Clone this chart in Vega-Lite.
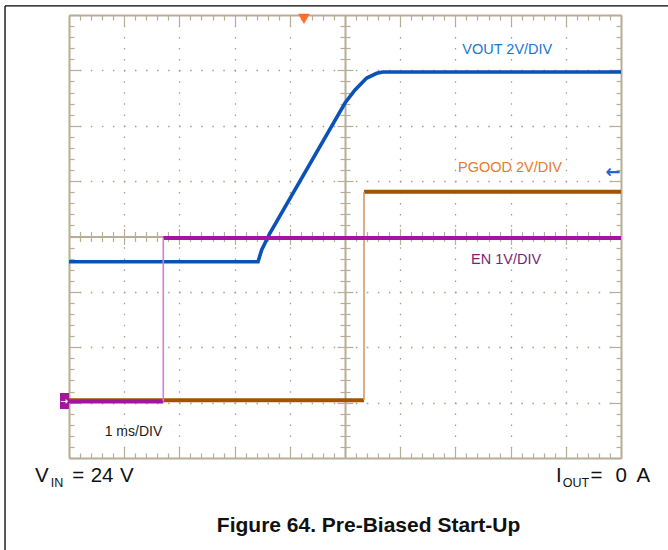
{
  "$schema": "https://vega.github.io/schema/vega-lite/v6.json",
  "width": 552,
  "height": 443,
  "autosize": {"type": "none"},
  "padding": {"left": 69, "top": 15, "right": 47, "bottom": 92},
  "background": "white",
  "config": {"view": {"stroke": null}, "font": "Liberation Sans"},
  "datasets": {
    "dummy": [{"x": 0, "y": 0}],
    "vout": [
      {"x": 0, "y": 3.545}, {"x": 3.424, "y": 3.545}, {"x": 3.49, "y": 3.756}, {"x": 3.641, "y": 4.063},
      {"x": 5.0, "y": 6.411}, {"x": 5.181, "y": 6.646}, {"x": 5.393, "y": 6.862}, {"x": 5.574, "y": 6.947},
      {"x": 5.688, "y": 6.97}, {"x": 10, "y": 6.97}
    ],
    "en": [
      {"seg": "low", "x": 0, "y": 1.02}, {"seg": "low", "x": 1.708, "y": 1.02},
      {"seg": "high", "x": 1.708, "y": 3.975}, {"seg": "high", "x": 10, "y": 3.975}
    ],
    "pgood": [
      {"seg": "low", "x": 0, "y": 1.045}, {"seg": "low", "x": 5.344, "y": 1.045},
      {"seg": "high", "x": 5.344, "y": 4.81}, {"seg": "high", "x": 10, "y": 4.81}
    ],
    "big": [
      {"t": "V", "x": -0.616, "y": -0.43},
      {"t": "=", "x": 0.06, "y": -0.43},
      {"t": "24", "x": 0.393, "y": -0.43},
      {"t": "V", "x": 0.924, "y": -0.43},
      {"t": "I", "x": 8.822, "y": -0.43},
      {"t": "=", "x": 9.447, "y": -0.43},
      {"t": "0", "x": 9.9, "y": -0.43},
      {"t": "A", "x": 10.281, "y": -0.43}
    ],
    "sub": [
      {"t": "IN", "x": -0.332, "y": -0.518},
      {"t": "OUT", "x": 8.946, "y": -0.53}
    ]
  },
  "layer": [
    {
      "data": {"name": "dummy"},
      "mark": {"type": "point", "opacity": 0},
      "encoding": {
        "x": {"field": "x", "type": "quantitative", "scale": {"domain": [0, 10], "nice": false},
          "axis": {"orient": "bottom", "title": null, "labels": false, "grid": true, "ticks": false, "domain": false,
            "values": [1, 2, 3, 4, 6, 7, 8, 9], "gridColor": "#a89f86", "gridWidth": 1.3, "gridDash": [1.5, 9.575], "gridDashOffset": 0.75}},
        "y": {"field": "y", "type": "quantitative", "scale": {"domain": [0, 8], "nice": false},
          "axis": {"orient": "left", "title": null, "labels": false, "grid": true, "ticks": false, "domain": false,
            "values": [1, 2, 3, 5, 6, 7], "gridColor": "#a89f86", "gridWidth": 1.3, "gridDash": [1.5, 9.54], "gridDashOffset": 0.75}}
      }
    },
    {
      "data": {"name": "dummy"},
      "mark": {"type": "point", "opacity": 0},
      "encoding": {
        "x": {"field": "x", "type": "quantitative", "scale": {"domain": [0, 10], "nice": false},
          "axis": {"orient": "bottom", "title": null, "labels": false, "grid": false,
            "values": [0,0.2,0.4,0.6,0.8,1,1.2,1.4,1.6,1.8,2,2.2,2.4,2.6,2.8,3,3.2,3.4,3.6,3.8,4,4.2,4.4,4.6,4.8,5,5.2,5.4,5.6,5.8,6,6.2,6.4,6.6,6.8,7,7.2,7.4,7.6,7.8,8,8.2,8.4,8.6,8.8,9,9.2,9.4,9.6,9.8,10],
            "tickSize": {"condition": {"test": "datum.value % 1 === 0", "value": -11}, "value": -5},
            "tickColor": "#b8ae96", "tickWidth": 1.2, "domainColor": "#b8ae96", "domainWidth": 2}},
        "y": {"field": "y", "type": "quantitative", "scale": {"domain": [0, 8], "nice": false},
          "axis": {"orient": "left", "title": null, "labels": false, "grid": false,
            "values": [0,0.2,0.4,0.6,0.8,1,1.2,1.4,1.6,1.8,2,2.2,2.4,2.6,2.8,3,3.2,3.4,3.6,3.8,4,4.2,4.4,4.6,4.8,5,5.2,5.4,5.6,5.8,6,6.2,6.4,6.6,6.8,7,7.2,7.4,7.6,7.8,8],
            "tickSize": {"condition": {"test": "datum.value % 1 === 0", "value": -11}, "value": -5},
            "tickColor": "#b8ae96", "tickWidth": 1.2, "domainColor": "#b8ae96", "domainWidth": 2}}
      }
    },
    {
      "data": {"name": "dummy"},
      "mark": {"type": "point", "opacity": 0},
      "encoding": {
        "x": {"field": "x", "type": "quantitative", "scale": {"domain": [0, 10], "nice": false},
          "axis": {"orient": "top", "title": null, "labels": false, "grid": false,
            "values": [0,0.2,0.4,0.6,0.8,1,1.2,1.4,1.6,1.8,2,2.2,2.4,2.6,2.8,3,3.2,3.4,3.6,3.8,4,4.2,4.4,4.6,4.8,5,5.2,5.4,5.6,5.8,6,6.2,6.4,6.6,6.8,7,7.2,7.4,7.6,7.8,8,8.2,8.4,8.6,8.8,9,9.2,9.4,9.6,9.8,10],
            "tickSize": {"condition": {"test": "datum.value % 1 === 0", "value": -11}, "value": -5},
            "tickColor": "#b8ae96", "tickWidth": 1.2, "domainColor": "#b8ae96", "domainWidth": 2}},
        "y": {"field": "y", "type": "quantitative", "scale": {"domain": [0, 8], "nice": false},
          "axis": {"orient": "right", "title": null, "labels": false, "grid": false,
            "values": [0,0.2,0.4,0.6,0.8,1,1.2,1.4,1.6,1.8,2,2.2,2.4,2.6,2.8,3,3.2,3.4,3.6,3.8,4,4.2,4.4,4.6,4.8,5,5.2,5.4,5.6,5.8,6,6.2,6.4,6.6,6.8,7,7.2,7.4,7.6,7.8,8],
            "tickSize": {"condition": {"test": "datum.value % 1 === 0", "value": -11}, "value": -5},
            "tickColor": "#b8ae96", "tickWidth": 1.2, "domainColor": "#b8ae96", "domainWidth": 2}}
      }
    },
    {
      "data": {"name": "dummy"},
      "mark": {"type": "point", "opacity": 0},
      "encoding": {
        "x": {"field": "x", "type": "quantitative", "scale": {"domain": [0, 10], "nice": false},
          "axis": {"orient": "bottom", "offset": -221.5, "title": null, "labels": false, "grid": false,
            "values": [0.2,0.4,0.6,0.8,1,1.2,1.4,1.6,1.8,2,2.2,2.4,2.6,2.8,3,3.2,3.4,3.6,3.8,4,4.2,4.4,4.6,4.8,5,5.2,5.4,5.6,5.8,6,6.2,6.4,6.6,6.8,7,7.2,7.4,7.6,7.8,8,8.2,8.4,8.6,8.8,9,9.2,9.4,9.6,9.8],
            "tickSize": {"condition": {"test": "datum.value % 1 === 0", "value": 8}, "value": 5},
            "tickColor": "#b8ae96", "tickWidth": 1.2, "domainColor": "#b8ae96", "domainWidth": 2}},
        "y": {"field": "y", "type": "quantitative", "scale": {"domain": [0, 8], "nice": false},
          "axis": {"orient": "left", "offset": -276, "title": null, "labels": false, "grid": false,
            "values": [0.2,0.4,0.6,0.8,1,1.2,1.4,1.6,1.8,2,2.2,2.4,2.6,2.8,3,3.2,3.4,3.6,3.8,4,4.2,4.4,4.6,4.8,5,5.2,5.4,5.6,5.8,6,6.2,6.4,6.6,6.8,7,7.2,7.4,7.6,7.8],
            "tickSize": {"condition": {"test": "datum.value % 1 === 0", "value": 8}, "value": 5},
            "tickColor": "#b8ae96", "tickWidth": 1.2, "domainColor": "#b8ae96", "domainWidth": 2}}
      }
    },
    {
      "data": {"name": "dummy"},
      "mark": {"type": "point", "opacity": 0},
      "encoding": {
        "x": {"field": "x", "type": "quantitative", "scale": {"domain": [0, 10], "nice": false},
          "axis": {"orient": "top", "offset": -221.5, "title": null, "labels": false, "grid": false, "domain": false,
            "values": [0.2,0.4,0.6,0.8,1,1.2,1.4,1.6,1.8,2,2.2,2.4,2.6,2.8,3,3.2,3.4,3.6,3.8,4,4.2,4.4,4.6,4.8,5,5.2,5.4,5.6,5.8,6,6.2,6.4,6.6,6.8,7,7.2,7.4,7.6,7.8,8,8.2,8.4,8.6,8.8,9,9.2,9.4,9.6,9.8],
            "tickSize": {"condition": {"test": "datum.value % 1 === 0", "value": 8}, "value": 5},
            "tickColor": "#b8ae96", "tickWidth": 1.2}},
        "y": {"field": "y", "type": "quantitative", "scale": {"domain": [0, 8], "nice": false},
          "axis": {"orient": "right", "offset": -276, "title": null, "labels": false, "grid": false, "domain": false,
            "values": [0.2,0.4,0.6,0.8,1,1.2,1.4,1.6,1.8,2,2.2,2.4,2.6,2.8,3,3.2,3.4,3.6,3.8,4,4.2,4.4,4.6,4.8,5,5.2,5.4,5.6,5.8,6,6.2,6.4,6.6,6.8,7,7.2,7.4,7.6,7.8],
            "tickSize": {"condition": {"test": "datum.value % 1 === 0", "value": 8}, "value": 5},
            "tickColor": "#b8ae96", "tickWidth": 1.2}}
      }
    },
    {
      "data": {"name": "pgood"},
      "mark": {"type": "line", "color": "#a35200", "strokeWidth": 4, "clip": true},
      "encoding": {
        "x": {"field": "x", "type": "quantitative", "scale": {"domain": [0, 10], "nice": false}, "axis": null},
        "y": {"field": "y", "type": "quantitative", "scale": {"domain": [0, 8], "nice": false}, "axis": null},
        "detail": {"field": "seg"}
      }
    },
    {
      "data": {"name": "dummy"},
      "mark": {"type": "rule", "color": "#d39a6c", "strokeWidth": 1.6},
      "encoding": {
        "x": {"datum": 5.344, "type": "quantitative", "scale": {"domain": [0, 10], "nice": false}, "axis": null},
        "y": {"datum": 1.045, "type": "quantitative", "scale": {"domain": [0, 8], "nice": false}, "axis": null},
        "y2": {"datum": 4.81}
      }
    },
    {
      "data": {"name": "vout"},
      "mark": {"type": "line", "color": "#0b52b8", "strokeWidth": 3.6, "clip": true},
      "encoding": {
        "x": {"field": "x", "type": "quantitative", "scale": {"domain": [0, 10], "nice": false}, "axis": null},
        "y": {"field": "y", "type": "quantitative", "scale": {"domain": [0, 8], "nice": false}, "axis": null}
      }
    },
    {
      "data": {"name": "en"},
      "mark": {"type": "line", "color": "#a3159f", "strokeWidth": 4, "clip": true},
      "encoding": {
        "x": {"field": "x", "type": "quantitative", "scale": {"domain": [0, 10], "nice": false}, "axis": null},
        "y": {"field": "y", "type": "quantitative", "scale": {"domain": [0, 8], "nice": false}, "axis": null},
        "detail": {"field": "seg"}
      }
    },
    {
      "data": {"name": "dummy"},
      "mark": {"type": "rule", "color": "#d77ad9", "strokeWidth": 1.6},
      "encoding": {
        "x": {"datum": 1.708, "type": "quantitative", "scale": {"domain": [0, 10], "nice": false}, "axis": null},
        "y": {"datum": 1.02, "type": "quantitative", "scale": {"domain": [0, 8], "nice": false}, "axis": null},
        "y2": {"datum": 3.975}
      }
    },
    {
      "data": {"name": "dummy"},
      "mark": {"type": "rect", "color": "#a3159f"},
      "encoding": {
        "x": {"datum": -0.163, "type": "quantitative", "scale": {"domain": [0, 10], "nice": false}, "axis": null},
        "x2": {"datum": 0},
        "y": {"datum": 0.885, "type": "quantitative", "scale": {"domain": [0, 8], "nice": false}, "axis": null},
        "y2": {"datum": 1.174}
      }
    },
    {
      "data": {"name": "dummy"},
      "mark": {"type": "text", "text": "→", "font": "DejaVu Sans", "fontSize": 9, "fontWeight": "bold", "color": "white", "align": "center", "baseline": "middle"},
      "encoding": {
        "x": {"datum": -0.085, "type": "quantitative", "scale": {"domain": [0, 10], "nice": false}, "axis": null},
        "y": {"datum": 1.03, "type": "quantitative", "scale": {"domain": [0, 8], "nice": false}, "axis": null}
      }
    },
    {
      "data": {"name": "dummy"},
      "mark": {"type": "point", "shape": "triangle-down", "filled": true, "color": "#ff6f2b", "opacity": 1, "size": 140},
      "encoding": {
        "x": {"datum": 4.257, "type": "quantitative", "scale": {"domain": [0, 10], "nice": false}, "axis": null},
        "y": {"datum": 7.93, "type": "quantitative", "scale": {"domain": [0, 8], "nice": false}, "axis": null}
      }
    },
    {
      "data": {"name": "dummy"},
      "mark": {"type": "text", "text": "←", "font": "DejaVu Sans", "fontSize": 18, "fontWeight": "bold", "color": "#2a64c8", "align": "center", "baseline": "middle"},
      "encoding": {
        "x": {"datum": 9.855, "type": "quantitative", "scale": {"domain": [0, 10], "nice": false}, "axis": null},
        "y": {"datum": 5.147, "type": "quantitative", "scale": {"domain": [0, 8], "nice": false}, "axis": null}
      }
    },
    {
      "data": {"name": "dummy"},
      "mark": {"type": "text", "text": "VOUT 2V/DIV", "fontSize": 14.5, "color": "#2078cc", "align": "center", "baseline": "middle"},
      "encoding": {
        "x": {"datum": 7.94, "type": "quantitative", "scale": {"domain": [0, 10], "nice": false}, "axis": null},
        "y": {"datum": 7.368, "type": "quantitative", "scale": {"domain": [0, 8], "nice": false}, "axis": null}
      }
    },
    {
      "data": {"name": "dummy"},
      "mark": {"type": "text", "text": "PGOOD 2V/DIV", "fontSize": 14.5, "color": "#e87a2a", "align": "center", "baseline": "middle"},
      "encoding": {
        "x": {"datum": 7.989, "type": "quantitative", "scale": {"domain": [0, 10], "nice": false}, "axis": null},
        "y": {"datum": 5.242, "type": "quantitative", "scale": {"domain": [0, 8], "nice": false}, "axis": null}
      }
    },
    {
      "data": {"name": "dummy"},
      "mark": {"type": "text", "text": "EN 1V/DIV", "fontSize": 14.5, "color": "#7b1f7b", "align": "center", "baseline": "middle"},
      "encoding": {
        "x": {"datum": 7.917, "type": "quantitative", "scale": {"domain": [0, 10], "nice": false}, "axis": null},
        "y": {"datum": 3.576, "type": "quantitative", "scale": {"domain": [0, 8], "nice": false}, "axis": null}
      }
    },
    {
      "data": {"name": "dummy"},
      "mark": {"type": "text", "text": "1 ms/DIV", "fontSize": 14, "color": "#1a1a1a", "align": "center", "baseline": "middle"},
      "encoding": {
        "x": {"datum": 1.168, "type": "quantitative", "scale": {"domain": [0, 10], "nice": false}, "axis": null},
        "y": {"datum": 0.464, "type": "quantitative", "scale": {"domain": [0, 8], "nice": false}, "axis": null}
      }
    },
    {
      "data": {"name": "big"},
      "mark": {"type": "text", "fontSize": 20.5, "color": "#111111", "align": "left", "baseline": "alphabetic"},
      "encoding": {
        "x": {"field": "x", "type": "quantitative", "scale": {"domain": [0, 10], "nice": false}, "axis": null},
        "y": {"field": "y", "type": "quantitative", "scale": {"domain": [0, 8], "nice": false}, "axis": null},
        "text": {"field": "t"}
      }
    },
    {
      "data": {"name": "sub"},
      "mark": {"type": "text", "fontSize": 12.5, "color": "#111111", "align": "left", "baseline": "alphabetic"},
      "encoding": {
        "x": {"field": "x", "type": "quantitative", "scale": {"domain": [0, 10], "nice": false}, "axis": null},
        "y": {"field": "y", "type": "quantitative", "scale": {"domain": [0, 8], "nice": false}, "axis": null},
        "text": {"field": "t"}
      }
    },
    {
      "data": {"name": "dummy"},
      "mark": {"type": "text", "text": "Figure 64. Pre-Biased Start-Up", "fontSize": 21, "fontWeight": "bold", "color": "#111111", "align": "center", "baseline": "alphabetic"},
      "encoding": {
        "x": {"datum": 5.426, "type": "quantitative", "scale": {"domain": [0, 10], "nice": false}, "axis": null},
        "y": {"datum": -1.331, "type": "quantitative", "scale": {"domain": [0, 8], "nice": false}, "axis": null}
      }
    },
    {
      "data": {"name": "dummy"},
      "mark": {"type": "rule", "color": "#000000", "strokeWidth": 1.3},
      "encoding": {
        "x": {"datum": -1.159, "type": "quantitative", "scale": {"domain": [0, 10], "nice": false}, "axis": null},
        "x2": {"datum": 11},
        "y": {"datum": 8.163, "type": "quantitative", "scale": {"domain": [0, 8], "nice": false}, "axis": null}
      }
    },
    {
      "data": {"name": "dummy"},
      "mark": {"type": "rule", "color": "#000000", "strokeWidth": 1.3},
      "encoding": {
        "x": {"datum": -1.159, "type": "quantitative", "scale": {"domain": [0, 10], "nice": false}, "axis": null},
        "y": {"datum": -2, "type": "quantitative", "scale": {"domain": [0, 8], "nice": false}, "axis": null},
        "y2": {"datum": 8.163}
      }
    }
  ],
  "resolve": {"axis": {"x": "independent", "y": "independent"}}
}
